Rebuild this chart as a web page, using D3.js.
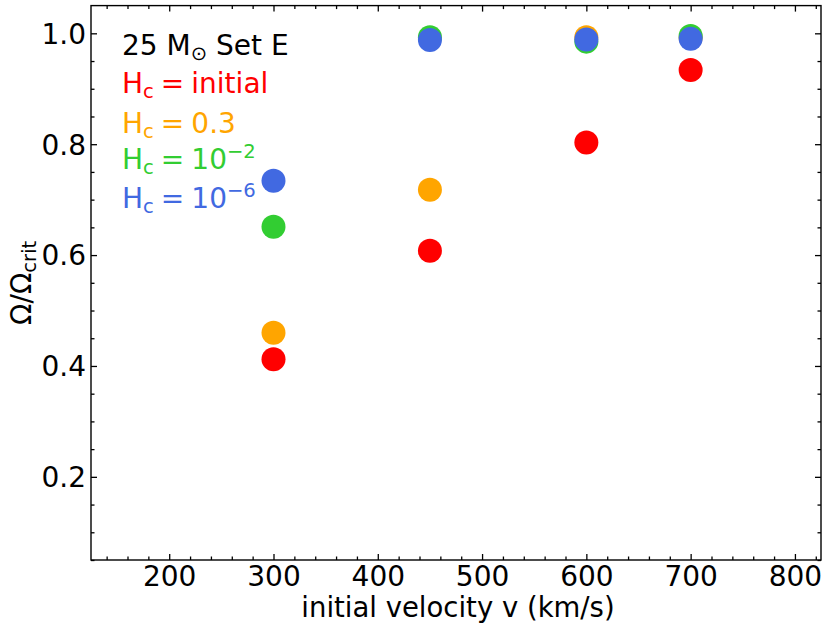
<!DOCTYPE html>
<html><head><meta charset="utf-8">
<script src="https://cdn.jsdelivr.net/npm/d3@7"></script>
<style>body{margin:0;background:#fff} text{font-family:"DejaVu Sans",sans-serif}</style>
</head><body><svg id="c" width="830" height="623"></svg>
<script>
const velocities = [300, 450, 600, 700];
const hcInitial = [0.412, 0.608, 0.803, 0.934];
const hc03 = [0.460, 0.718, 0.993, 0.992];
const hc1e2 = [0.651, 0.993, 0.985, 0.995];
const hc1e6 = [0.734, 0.988, 0.989, 0.990];
const seriesNames = ["initial", "0.3", "1e-2", "1e-6"];
const seriesColors = ["#ff0000", "#ffa500", "#32cd32", "#4169e1"];
const xTicks = [200, 300, 400, 500, 600, 700, 800];
const yTicks = [0.2, 0.4, 0.6, 0.8, 1.0];

const svg = d3.select("#c");
const L = 91, R = 821, T = 5.6, B = 560;
const x = d3.scaleLinear().domain([125, 825]).range([L, R]);
const y = d3.scaleLinear().domain([0.05, 1.05]).range([B, T]);
const FS = 28;

const xMinor = d3.range(140, 825, 20).filter(v => v % 100 !== 0);
const yMinor = d3.range(0.05, 1.05, 0.05).map(v => +v.toFixed(2)).filter(v => Math.abs(v*10 - Math.round(v*10)) > 1e-6 || (Math.round(v*10) % 2 === 1));

// points
const allSeries = [hcInitial, hc03, hc1e2, hc1e6];
allSeries.forEach((vals, si) => {
  svg.append("g").selectAll("circle").data(vals).join("circle")
    .attr("cx", (d, i) => x(velocities[i]))
    .attr("cy", d => y(d))
    .attr("r", 12)
    .attr("fill", seriesColors[si]);
});

// axes
function axis(gen, tx, ty, major, minor, labels) {
  const g = svg.append("g").attr("transform", `translate(${tx},${ty})`);
  g.call(gen(major).tickValues(major).tickSize(-6).tickPadding(9).tickFormat(labels ? null : () => ""));
  g.call(gg => gg.select(".domain").remove());
  const gm = svg.append("g").attr("transform", `translate(${tx},${ty})`);
  gm.call(gen(minor).tickValues(minor).tickSize(-3.5).tickFormat(() => ""));
  gm.select(".domain").remove();
  [g, gm].forEach(a => a.selectAll("line").attr("stroke", "#000").attr("stroke-width", 1.3));
  g.selectAll("text").attr("font-size", FS).attr("fill", "#000").attr("font-family", "DejaVu Sans");
  return g;
}
const gx = axis(v => d3.axisBottom(x).tickValues(v), 0, B, xTicks, xMinor, true);
gx.selectAll("text").attr("dy", "0.71em").attr("y", 6);
axis(v => d3.axisTop(x).tickValues(v), 0, T, xTicks, xMinor, false).selectAll("text").remove();
const gy = axis(v => d3.axisLeft(y).tickValues(v), L, 0, yTicks, yMinor, true);
gy.selectAll("text").attr("x", -5).attr("dy", "0.35em").text(d => d.toFixed(1));
axis(v => d3.axisRight(y).tickValues(v), R, 0, yTicks, yMinor, false).selectAll("text").remove();

svg.append("rect").attr("x", L).attr("y", T).attr("width", R - L).attr("height", B - T)
  .attr("fill", "none").attr("stroke", "#000").attr("stroke-width", 1.4);

// axis labels
svg.append("text").attr("x", (L + R) / 2 + 2).attr("y", 617).attr("text-anchor", "middle")
  .attr("font-size", 27.5).attr("fill", "#000").text("initial velocity v (km/s)");
const yl = svg.append("text").attr("transform", `translate(31,${(T + B) / 2}) rotate(-90)`)
  .attr("text-anchor", "middle").attr("font-size", FS).attr("fill", "#000");
yl.append("tspan").text("Ω/Ω");
yl.append("tspan").attr("font-size", FS * 0.7).attr("dy", 5).text("crit");

// legend text
const lx = 122;
const t0 = svg.append("text").attr("x", lx).attr("y", 55).attr("font-size", FS).attr("fill", "#000");
t0.append("tspan").text("25 M");
t0.append("tspan").attr("font-size", FS * 0.7).attr("dy", 5).text("⊙");
t0.append("tspan").attr("dy", -5).text(" Set E");

const legendY = [92.7, 132.5, 169, 208];
const legendVals = [
  [{t: "initial"}],
  [{t: "0.3"}],
  [{t: "10"}, {t: "−2", sup: true}],
  [{t: "10"}, {t: "−6", sup: true}]
];
legendVals.forEach((parts, i) => {
  const t = svg.append("text").attr("x", lx).attr("y", legendY[i]).attr("font-size", FS)
    .attr("fill", seriesColors[i]);
  t.append("tspan").text("H");
  t.append("tspan").attr("font-size", FS * 0.7).attr("dy", 5).text("c");
  t.append("tspan").attr("dy", -5).attr("dx", 7).text("=");
  parts.forEach((p, j) => {
    const s = t.append("tspan").attr("dx", j === 0 ? 7 : 0);
    if (p.sup) { s.attr("font-size", FS * 0.7).attr("dy", -11); }
    s.text(p.t);
  });
});
</script></body></html>
